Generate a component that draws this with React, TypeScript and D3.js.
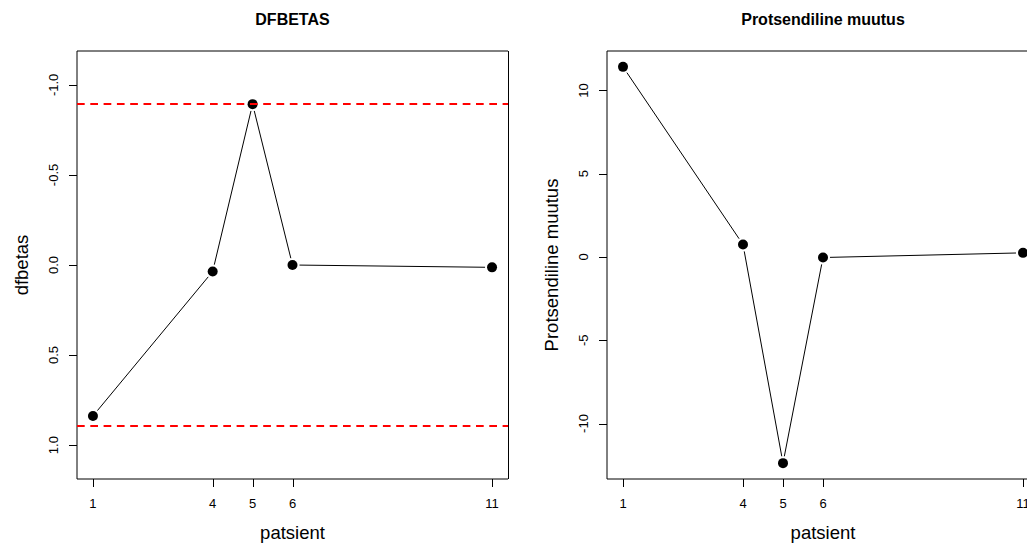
import React from "react";
import * as d3 from "d3";

const patients = [1, 4, 5, 6, 11];
const dfbetasValues = [0.838, 0.036, -0.893, 0.0, 0.013];
const changeValues = [11.42, 0.75, -12.38, -0.03, 0.25];
const nObs = 5;
const cutoff = 2 / Math.sqrt(nObs);
const dfbetasTicks = [-1, -0.5, 0, 0.5, 1];
const changeTicks = [-10, -5, 0, 5, 10];
const xLabel = "patsient";

const FONT = "'Liberation Sans', Arial, sans-serif";
const TOP = 51;
const BOTTOM = 479;

function segments(pts: [number, number][], gap: number) {
  const out: [number, number, number, number][] = [];
  for (let i = 0; i < pts.length - 1; i++) {
    const [x1, y1] = pts[i];
    const [x2, y2] = pts[i + 1];
    const dx = x2 - x1, dy = y2 - y1;
    const len = Math.hypot(dx, dy);
    if (len <= 2 * gap) continue;
    const ux = dx / len, uy = dy / len;
    out.push([x1 + ux * gap, y1 + uy * gap, x2 - ux * gap, y2 - uy * gap]);
  }
  return out;
}

function Panel(props: {
  left: number;
  right: number;
  title: string;
  yLabel: string;
  values: number[];
  yTicks: number[];
  fmt: (v: number) => string;
  yDomain: [number, number];
  reversed: boolean;
  hlines?: number[];
}) {
  const { left, right, title, yLabel, values, yTicks, fmt, yDomain, reversed, hlines } = props;
  const xExt = d3.extent(patients) as [number, number];
  const xr = xExt[1] - xExt[0];
  const x = d3.scaleLinear().domain([xExt[0] - 0.04 * xr, xExt[1] + 0.04 * xr]).range([left, right]);
  const y = d3
    .scaleLinear()
    .domain(yDomain)
    .range(reversed ? [TOP, BOTTOM] : [BOTTOM, TOP]);
  const pts: [number, number][] = patients.map((p, i) => [x(p), y(values[i])]);
  const segs = segments(pts, 7);
  const cx = (left + right) / 2;
  return (
    <g>
      <text x={cx} y={25} textAnchor="middle" fontFamily={FONT} fontWeight="bold" fontSize={16} fill="#000">
        {title}
      </text>
      {/* box */}
      <line x1={left} x2={right} y1={TOP} y2={TOP} stroke="#000" strokeWidth={1} />
      <line x1={left} x2={right} y1={BOTTOM} y2={BOTTOM} stroke="#000" strokeWidth={1} />
      <line x1={left} x2={left} y1={TOP} y2={BOTTOM} stroke="#000" strokeWidth={1} />
      <line x1={right + 0.5} x2={right + 0.5} y1={TOP} y2={BOTTOM} stroke="#000" strokeWidth={1} />
      {/* x axis */}
      {patients.map((p) => (
        <g key={"xt" + p}>
          <line x1={Math.round(x(p)) + 0.5} x2={Math.round(x(p)) + 0.5} y1={BOTTOM} y2={BOTTOM + 8} stroke="#000" />
          <text x={x(p)} y={508} textAnchor="middle" fontFamily={FONT} fontSize={13} fill="#000">
            {String(p)}
          </text>
        </g>
      ))}
      <text x={cx} y={539} textAnchor="middle" fontFamily={FONT} fontSize={18.5} fill="#000">
        {xLabel}
      </text>
      {/* y axis */}
      {yTicks.map((t) => (
        <g key={"yt" + t}>
          <line x1={left - 8} x2={left} y1={Math.round(y(t)) + 0.5} y2={Math.round(y(t)) + 0.5} stroke="#000" />
          <text
            transform={`translate(${left - 19.5},${y(t)}) rotate(-90)`}
            textAnchor="middle"
            fontFamily={FONT}
            fontSize={13}
            fill="#000"
          >
            {fmt(t)}
          </text>
        </g>
      ))}
      <text
        transform={`translate(${left - 49},${(TOP + BOTTOM) / 2}) rotate(-90)`}
        textAnchor="middle"
        fontFamily={FONT}
        fontSize={18.5}
        fill="#000"
      >
        {yLabel}
      </text>
      {/* data */}
      {segs.map((s, i) => (
        <line key={"s" + i} x1={s[0]} y1={s[1]} x2={s[2]} y2={s[3]} stroke="#000" strokeWidth={1} />
      ))}
      {pts.map((p, i) => (
        <circle key={"p" + i} cx={p[0]} cy={p[1]} r={5} fill="#000" />
      ))}
      {(hlines || []).map((h, i) => (
        <line
          key={"h" + i}
          x1={left}
          x2={right}
          y1={y(h)}
          y2={y(h)}
          stroke="#ff0000"
          strokeWidth={2}
          strokeDasharray="7.7 5.6"
        />
      ))}
    </g>
  );
}

export default function App() {
  const cExt = d3.extent(changeValues) as [number, number];
  const cr = cExt[1] - cExt[0];
  return (
    <svg
      width={1027}
      height={545}
      style={{ position: "absolute", left: 0, top: 0, background: "#fff" }}
    >
      <rect x={0} y={0} width={1027} height={545} fill="#fff" />
      <Panel
        left={77}
        right={508}
        title="DFBETAS"
        yLabel="dfbetas"
        values={dfbetasValues}
        yTicks={dfbetasTicks}
        fmt={(v) => d3.format(".1f")(v).replace("−", "-")}
        yDomain={[-1.188, 1.188]}
        reversed={true}
        hlines={[-cutoff, cutoff]}
      />
      <Panel
        left={607}
        right={1039}
        title="Protsendiline muutus"
        yLabel="Protsendiline muutus"
        values={changeValues}
        yTicks={changeTicks}
        fmt={(v) => String(v)}
        yDomain={[cExt[0] - 0.04 * cr, cExt[1] + 0.04 * cr]}
        reversed={false}
      />
    </svg>
  );
}
